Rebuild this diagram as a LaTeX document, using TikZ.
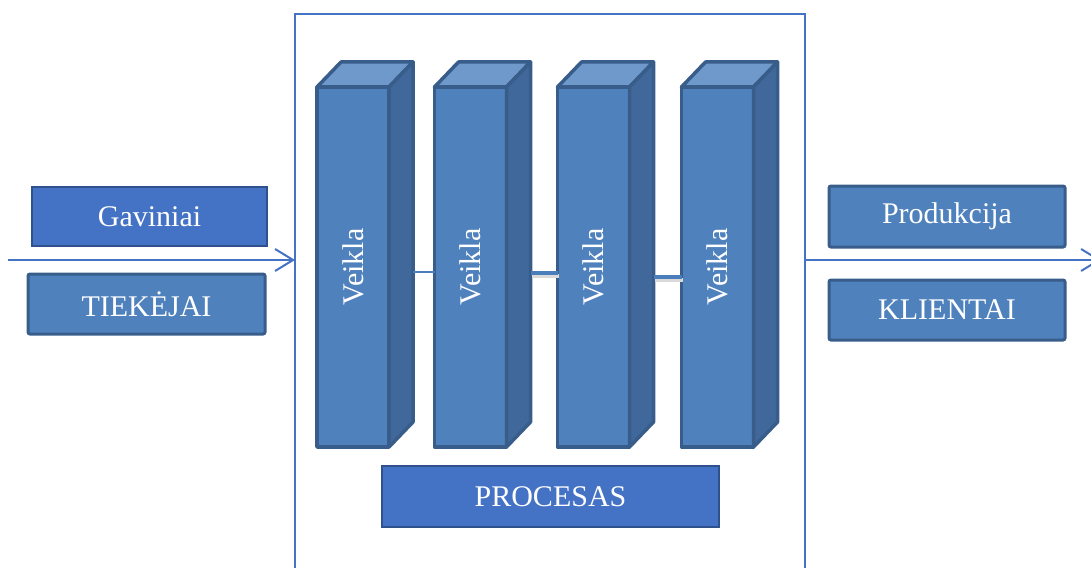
\documentclass[tikz,border=0pt]{standalone}
\usepackage{fontspec}
\setmainfont{Liberation Serif}
\usetikzlibrary{arrows.meta,calc}

\definecolor{frameblue}{HTML}{4472C4}
\definecolor{fillA}{HTML}{4472C4}
\definecolor{lineA}{HTML}{2F528F}
\definecolor{fillB}{HTML}{4F81BD}
\definecolor{lineB}{HTML}{385D8A}
\definecolor{topface}{HTML}{6F99CB}
\definecolor{sideface}{HTML}{40689A}
\definecolor{linkblue}{HTML}{4A7EBB}

\tikzset{
  txt/.style={text=white, font=\fontsize{30}{34}\selectfont},
  flatbox/.style={txt, draw=lineA, fill=fillA, line width=1.5pt, outer sep=0pt},
  softbox/.style={txt, draw=lineB, fill=fillB, line width=3pt, rounded corners=2pt, outer sep=0pt},
  front/.style={draw=lineB, fill=fillB, line width=3.5pt, line join=round,
    minimum width=72pt, minimum height=360pt, outer sep=0pt},
  vlabel/.style={txt, rotate=90},
  face/.style={draw=lineB, line width=3.5pt, line join=round},
  frameline/.style={draw=frameblue, line width=2pt, minimum width=510pt,
    minimum height=572pt, outer sep=0pt},
  flow/.style={draw=frameblue, line width=2pt,
    -{Straight Barb[length=18pt,width=22pt,line width=2pt]}},
  link/.style={draw=linkblue},
  linkshadow/.style={draw=black!15, line width=4pt},
}

% front face of a column plus its top and right faces
\newcommand{\column}[3]{%
  \node[front] (#1) at (#2,267) {};
  \path[face, fill=topface] (#1.north west) -- ++(24,-25) -- ++(72,0)
     -- (#1.north east) -- cycle;
  \path[face, fill=sideface] (#1.north east) -- ++(24,-25) -- ++(0,360)
     -- (#1.south east) -- cycle;
  \node[vlabel] at (#1.center) {#3};
}

\begin{document}
\begin{tikzpicture}[x=1pt, y=-1pt]
  \useasboundingbox (0,0) rectangle (1091,567);

  % process frame, open at the bottom
  \node[frameline] (frame) at (550,300) {};

  % columns of activities
  \column{v1}{353}{Veikla}
  \column{v2}{470.5}{Veikla}
  \column{v3}{593.5}{Veikla}
  \column{v4}{717.5}{Veikla}

  % short links between columns
  \draw[link, line width=2pt] ($(v1.east |- 0,272)+(24,0)$) -- (v2.west |- 0,272);
  \draw[linkshadow] ($(v2.east |- 0,276)+(25,0)$) -- ($(v3.west |- 0,276)+(1,0)$);
  \draw[link, line width=4pt] ($(v2.east |- 0,273)+(24,0)$) -- (v3.west |- 0,273);
  \draw[linkshadow] ($(v3.east |- 0,280)+(25,0)$) -- ($(v4.west |- 0,280)+(1,0)$);
  \draw[link, line width=4pt] ($(v3.east |- 0,277)+(24,0)$) -- (v4.west |- 0,277);

  % process label
  \node[flatbox, minimum width=337pt, minimum height=61pt] (proc) at (550.5,496.5) {PROCESAS};

  % inputs
  \node[flatbox, minimum width=235pt, minimum height=59pt] (gav) at (149.5,216.5) {Gaviniai};
  \node[softbox, minimum width=237pt, minimum height=60pt] (tiek) at (146.5,304) {TIEKĖJAI};

  % outputs
  \node[softbox, minimum width=236pt, minimum height=61pt] (prod) at (947,216.5) {Produkcija};
  \node[softbox, minimum width=236pt, minimum height=60pt] (klient) at (947,310) {KLIENTAI};

  % flow in and out of the process
  \coordinate (src) at (8,260);
  \coordinate (dst) at (1101,260);
  \draw[flow] (src) -- (frame.west |- src);
  \draw[flow] (frame.east |- dst) -- (dst);
\end{tikzpicture}
\end{document}
